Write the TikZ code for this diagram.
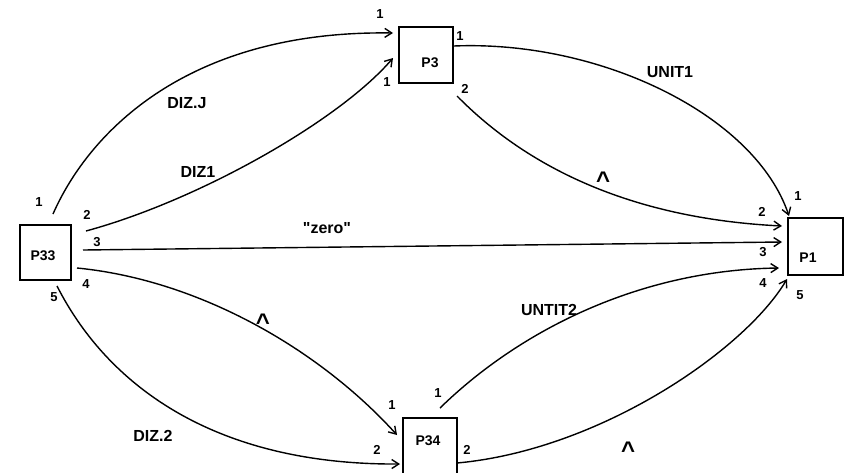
\documentclass[tikz,border=0pt]{standalone}
\usepackage{fontspec}
\setmainfont{Liberation Sans}
\usetikzlibrary{arrows.meta}
\begin{document}
\begin{tikzpicture}[x=1pt,y=-1pt,
  box/.style={draw,line width=1.9pt,inner sep=0pt},
  conn/.style={line width=1.4pt,-{Straight Barb[length=7pt,width=9pt,line width=1.4pt]}},
  lbl/.style={font=\bfseries\fontsize{16}{16}\selectfont,inner sep=0pt},
  num/.style={font=\bfseries\fontsize{13}{13}\selectfont,inner sep=0pt},
  btxt/.style={font=\bfseries\fontsize{14}{14}\selectfont,inner sep=0pt},
  andm/.style={font=\bfseries\fontsize{24}{24}\selectfont,inner sep=0pt,anchor=base}]
\useasboundingbox[fill=white] (0,0) rectangle (853,472);

% boxes
\node[box,minimum width=51pt,minimum height=55pt] (p33) at (45.5,252.5) {};
\node[box,minimum width=54pt,minimum height=56pt] (p3) at (426,55) {};
\node[box,minimum width=55pt,minimum height=57pt] (p1) at (815.5,246.5) {};
\node[box,minimum width=54pt,minimum height=56pt] (p34) at (430,446) {};
\node[btxt] (t33) at (43,256) {P33};
\node[btxt] (t3) at (430,63) {P3};
\node[btxt] (t1) at (808,258) {P1};
\node[btxt] (t34) at (428,441) {P34};

% ports
\coordinate (p33o1) at (53,214);
\coordinate (p33o2) at (86,231);
\coordinate (p33o3) at (83,250);
\coordinate (p33o4) at (77,268);
\coordinate (p33o5) at (57,286);
\coordinate (p3i1) at (393,33);
\coordinate (p3i2) at (393,58);
\coordinate (p3o1) at (454,46);
\coordinate (p3o2) at (457,96);
\coordinate (p1i1) at (789,216);
\coordinate (p1i2) at (782,226);
\coordinate (p1i3) at (782,242);
\coordinate (p1i4) at (779,268);
\coordinate (p1i5) at (787,279);
\coordinate (p34i1) at (397,435);
\coordinate (p34i2) at (400,464);
\coordinate (p34o1) at (440,408);
\coordinate (p34o2) at (457,463);

% connectors
\draw[conn] (p33o1) .. controls (90,130) and (190,30) .. (p3i1);
\draw[conn] (p33o2) .. controls (200,200) and (340,120) .. (p3i2);
\draw[conn] (p33o3) -- (p1i3);
\draw[conn] (p33o4) .. controls (200,280) and (320,350) .. (p34i1);
\draw[conn] (p33o5) .. controls (110,390) and (220,465) .. (p34i2);
\draw[conn] (p3o1) .. controls (600,40) and (755,115) .. (p1i1);
\draw[conn] (p3o2) .. controls (520,160) and (620,218) .. (p1i2);
\draw[conn] (p34o1) .. controls (520,330) and (640,270) .. (p1i4);
\draw[conn] (p34o2) .. controls (600,450) and (745,350) .. (p1i5);

% connector labels
\node[lbl] (lDIZJ) at (187,103) {DIZ.J};
\node[lbl] (lDIZ1) at (198,172) {DIZ1};
\node[lbl] (lzero) at (327,228) {\textquotedbl zero\textquotedbl};
\node[lbl] (lDIZ2) at (153,436) {DIZ.2};
\node[lbl] (lUNIT1) at (670,72) {UNIT1};
\node[lbl] (lUNTIT2) at (549,310) {UNTIT2};
\node[andm] (a1) at (263,330) {\textasciicircum};
\node[andm] (a2) at (603,188) {\textasciicircum};
\node[andm] (a3) at (628,458) {\textasciicircum};

% port numbers
\node[num] (n33a) at (39,202) {1};
\node[num] (n33b) at (87,215) {2};
\node[num] (n33c) at (97,242) {3};
\node[num] (n33d) at (86,284) {4};
\node[num] (n33e) at (54,297) {5};
\node[num] (n3a) at (380,14) {1};
\node[num] (n3b) at (387,82) {1};
\node[num] (n3c) at (460,36) {1};
\node[num] (n3d) at (465,89) {2};
\node[num] (n1a) at (798,196) {1};
\node[num] (n1b) at (762,212) {2};
\node[num] (n1c) at (763,252) {3};
\node[num] (n1d) at (763,283) {4};
\node[num] (n1e) at (800,295) {5};
\node[num] (n34a) at (392,405) {1};
\node[num] (n34b) at (377,450) {2};
\node[num] (n34c) at (438,393) {1};
\node[num] (n34d) at (467,450) {2};
\end{tikzpicture}
\end{document}
